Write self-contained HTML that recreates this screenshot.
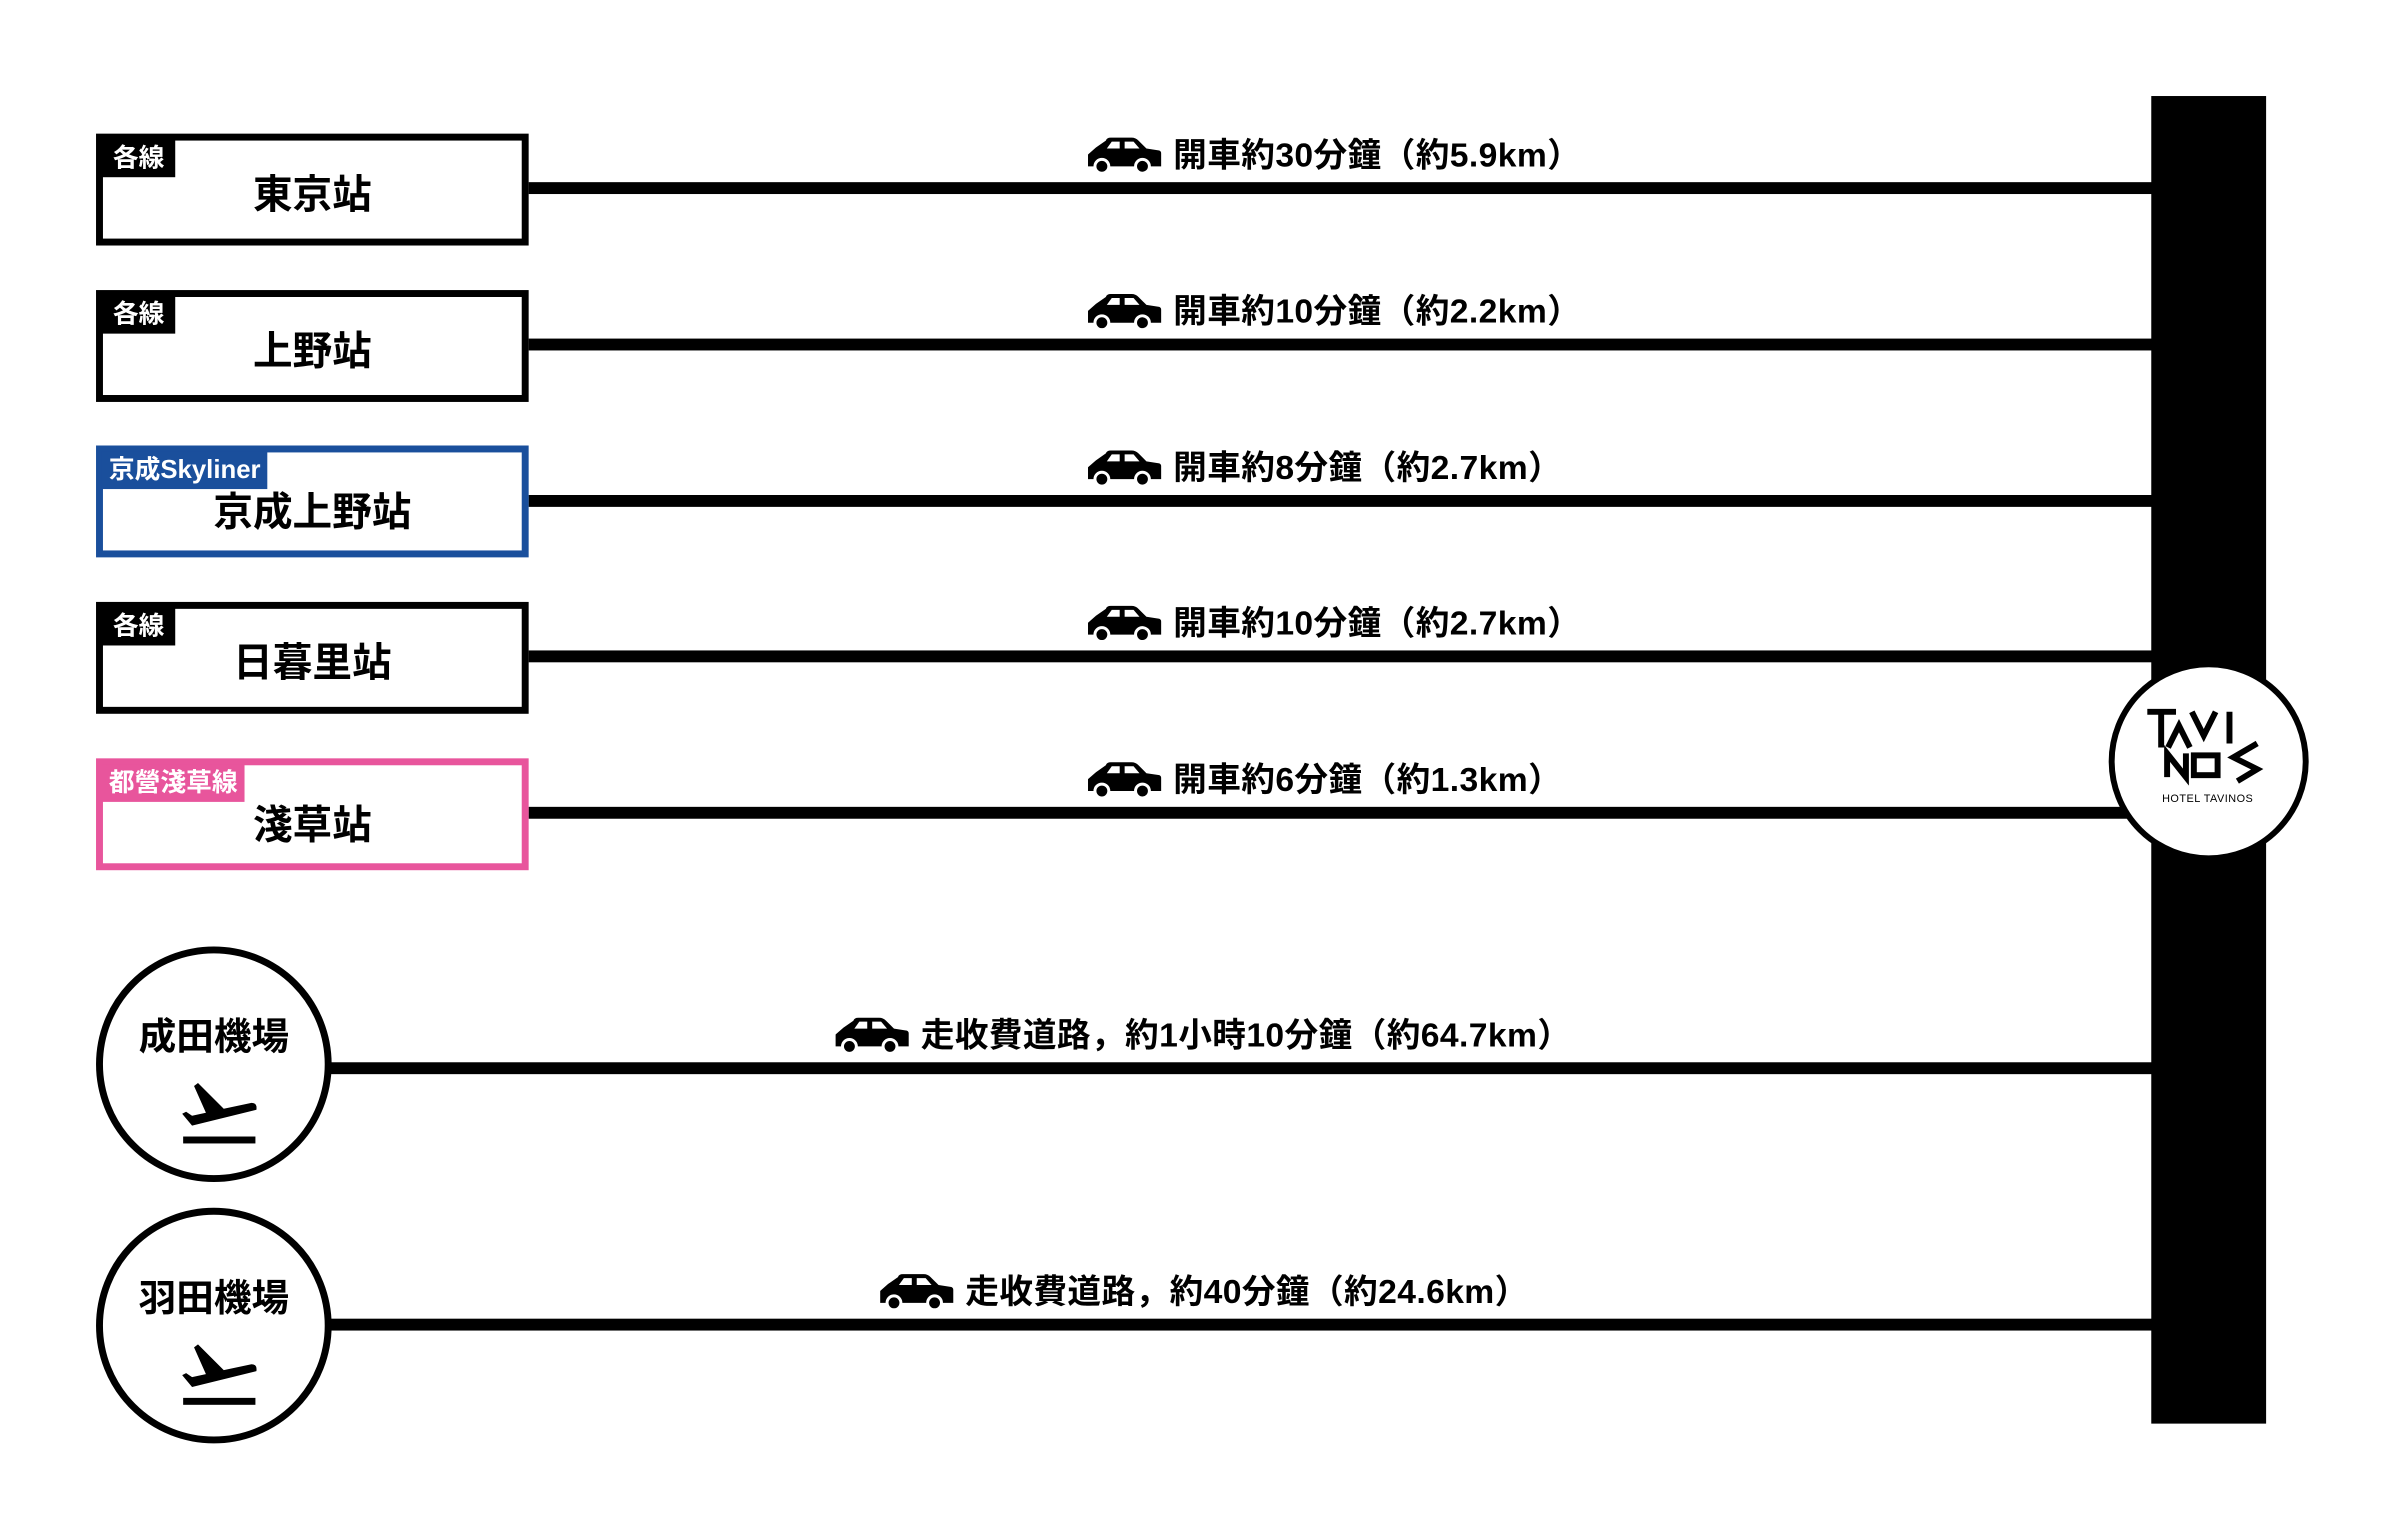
<!DOCTYPE html>
<html><head><meta charset="utf-8"><style>
body{margin:0;width:2400px;height:1520px;background:#fff;position:relative;overflow:hidden;font-family:"Liberation Sans","Noto Sans CJK JP",sans-serif;font-weight:bold}
#w{position:absolute;left:0;top:0;width:2400px;height:1520px;transform:scale(0.99);transform-origin:0 0}
.a{position:absolute}
.box{position:absolute;left:97px;width:423px;height:99px;border:7px solid #000;background:#fff}
.tab{position:absolute;left:-1px;top:-1px;height:38px;background:#000;color:#fff;font-size:26px;line-height:36px;padding:0 11px;white-space:nowrap}
.name{position:absolute;left:0;right:0;top:30px;text-align:center;font-size:40px;line-height:50px}
.ln{position:absolute;height:12px;background:#000}
.lab{position:absolute;font-size:34px;line-height:40px;white-space:nowrap;display:flex;align-items:center;letter-spacing:0.4px}
.lab svg{margin-right:12px}
.circ{position:absolute;width:224px;height:224px;border:7px solid #000;border-radius:50%;background:#fff}
.circ .t{position:absolute;left:0;right:0;top:62px;text-align:center;font-size:38px;line-height:46px}
</style></head><body>
<svg width="0" height="0" style="position:absolute"><defs>
<symbol id="car" viewBox="0 0 74 38"><path d="M0 18 L8 11 L18 4 Q19 1 23 1 L44 1 Q48 1 51 4 L59 12 L72 14 Q74 15 74 17 L74 30 L0 30 Z" fill="#000"/><path d="M19 12 L24 5 L32 5 L32 12 Z M37 5 L46 5 L52 12 L37 12Z" fill="#fff"/><circle cx="14" cy="30" r="7" fill="#000" stroke="#fff" stroke-width="3"/><circle cx="55" cy="30" r="7" fill="#000" stroke="#fff" stroke-width="3"/></symbol>
<symbol id="plane" viewBox="0 0 76 64"><path d="M16 0 L42 26 L70 20 Q76 20 75 27 L10 43 L0 31 L4 29 L10 33 L24 30 L12 3Z" fill="#000"/><rect x="1" y="54" width="73" height="7" fill="#000"/></symbol>
</defs></svg>
<div id="w">
<div class="a" style="left:2173px;top:97px;width:116px;height:1341px;background:#000"></div>

<div class="ln" style="left:520px;top:184px;width:1660px"></div>
<div class="ln" style="left:520px;top:342px;width:1660px"></div>
<div class="ln" style="left:520px;top:500px;width:1660px"></div>
<div class="ln" style="left:520px;top:657px;width:1660px"></div>
<div class="ln" style="left:520px;top:815px;width:1660px"></div>
<div class="ln" style="left:330px;top:1073px;width:1850px"></div>
<div class="ln" style="left:330px;top:1332px;width:1850px"></div>

<div class="box" style="top:135px"><div class="tab">各線</div><div class="name">東京站</div></div>
<div class="box" style="top:293px"><div class="tab">各線</div><div class="name">上野站</div></div>
<div class="box" style="top:450px;border-color:#1a4f9c"><div class="tab" style="background:#1a4f9c;padding:0 7px">京成Skyliner</div><div class="name" style="top:36px">京成上野站</div></div>
<div class="box" style="top:608px"><div class="tab">各線</div><div class="name">日暮里站</div></div>
<div class="box" style="top:766px;border-color:#e8559c"><div class="tab" style="background:#e8559c;padding:0 7px">都營淺草線</div><div class="name" style="top:36px">淺草站</div></div>

<div class="lab" style="left:1099px;top:137px"><svg width="74" height="38"><use href="#car"/></svg>開車約30分鐘（約5.9km）</div>
<div class="lab" style="left:1099px;top:295px"><svg width="74" height="38"><use href="#car"/></svg>開車約10分鐘（約2.2km）</div>
<div class="lab" style="left:1099px;top:453px"><svg width="74" height="38"><use href="#car"/></svg>開車約8分鐘（約2.7km）</div>
<div class="lab" style="left:1099px;top:610px"><svg width="74" height="38"><use href="#car"/></svg>開車約10分鐘（約2.7km）</div>
<div class="lab" style="left:1099px;top:768px"><svg width="74" height="38"><use href="#car"/></svg>開車約6分鐘（約1.3km）</div>
<div class="lab" style="left:844px;top:1026px"><svg width="74" height="38"><use href="#car"/></svg>走收費道路，約1小時10分鐘（約64.7km）</div>
<div class="lab" style="left:889px;top:1285px"><svg width="74" height="38"><use href="#car"/></svg>走收費道路，約40分鐘（約24.6km）</div>

<div class="circ" style="left:97px;top:956px"><div class="t">成田機場</div><svg class="a" style="left:80px;top:131px" width="76" height="64"><use href="#plane"/></svg></div>
<div class="circ" style="left:97px;top:1220px"><div class="t">羽田機場</div><svg class="a" style="left:80px;top:131px" width="76" height="64"><use href="#plane"/></svg></div>

<div class="a" style="left:2130px;top:668px;width:190px;height:190px;border:6px solid #000;border-radius:50%;background:#fff"></div>
<svg class="a" style="left:2168px;top:715px" width="130" height="100" viewBox="0 0 130 100">
<g fill="none" stroke="#000" stroke-width="6">
<path d="M1 4 H30 M15 4 V40"/>
<path d="M22 40 L33 18 L44 40"/>
<path d="M46 4 L58 28 L70 4"/>
<path d="M84 4 V36"/>
<path d="M21 70 V46 L40 70 V46"/>
<rect x="48" y="48" width="24" height="20"/>
<path d="M112 36 L88 50 L112 62 L92 74"/>
</g>
<text x="62" y="95" font-size="11" font-weight="normal" text-anchor="middle" font-family="Liberation Sans,sans-serif" letter-spacing="0.5">HOTEL TAVINOS</text>
</svg>
</div>
</body></html>
